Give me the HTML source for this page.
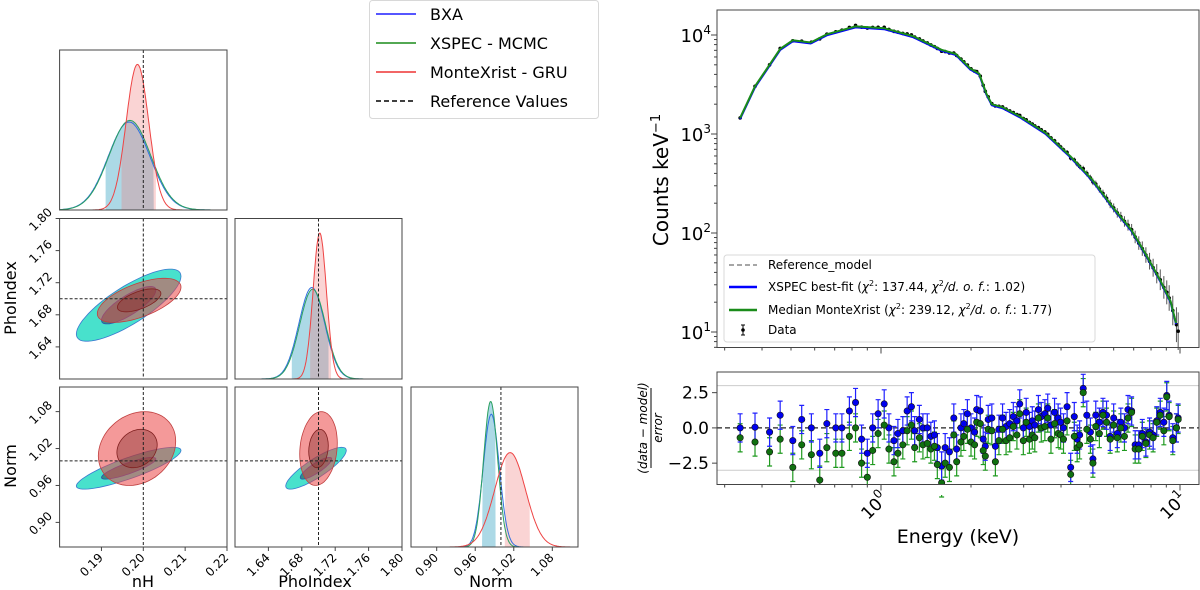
<!DOCTYPE html>
<html><head><meta charset="utf-8"><style>
html,body{margin:0;padding:0;background:#fff;}
svg{display:block;font-family:"DejaVu Sans","Liberation Sans",sans-serif;}
</style></head><body>
<svg id="fig" width="1200" height="590" viewBox="0 0 1200 590" xmlns="http://www.w3.org/2000/svg">
<g id="legend">
<rect x="369.5" y="0.5" width="229" height="118" rx="3" fill="#fff" stroke="#d8d8d8"/>
<line x1="376" y1="14" x2="416" y2="14" stroke="#1f1fff" stroke-width="1.5"/>
<text x="430" y="20" font-size="16">BXA</text>
<line x1="376" y1="43" x2="416" y2="43" stroke="#1a8c1a" stroke-width="1.5"/>
<text x="430" y="49" font-size="16">XSPEC - MCMC</text>
<line x1="376" y1="72" x2="416" y2="72" stroke="#ee3333" stroke-width="1.5"/>
<text x="430" y="78" font-size="16">MonteXrist - GRU</text>
<line x1="376" y1="101" x2="416" y2="101" stroke="#000" stroke-width="1.5" stroke-dasharray="5,3"/>
<text x="430" y="107" font-size="16">Reference Values</text>
</g>
</svg>
<script>
// ---------- corner plot data ----------
const paramNames = ["nH","PhoIndex","Norm"];
const paramRanges = [[0.18,0.22],[1.60,1.80],[0.86,1.12]];
const paramTicks = [[0.19,0.20,0.21,0.22],[1.64,1.68,1.72,1.76,1.80],[0.90,0.96,1.02,1.08]];
const refValues = [0.20,1.70,1.00];
// 1D marginals: [mean, sd, peak height fraction]
const bxaMarg = [[0.1966,0.0050,0.55],[1.692,0.0155,0.57],[0.985,0.0125,0.83]];
const xspecMarg = [[0.1968,0.0050,0.56],[1.693,0.0155,0.56],[0.984,0.0110,0.91]];
const gruMarg = [[0.1986,0.0027,0.91],[1.7015,0.0080,0.91],[1.0143,0.0240,0.59]];
const tealInterval = [[0.1910,0.2025],[1.668,1.712],[0.9706,0.9917]];
const redInterval = [[0.1948,0.2030],[1.690,1.715],[1.006,1.045]];
// 2D contours: [row, col, cx, cy, sx, sy, rho]
const tealContours = [[1,0,0.1965,1.692,0.0050,0.018,0.80],[2,0,0.1965,0.988,0.0050,0.0136,0.85],[2,1,1.697,0.988,0.0145,0.0136,0.85]];
const redContours = [[1,0,0.1990,1.698,0.0040,0.011,0.60],[2,0,0.1985,1.020,0.0037,0.024,0.20],[2,1,1.700,1.020,0.0090,0.024,0.15]];

// ---------- spectrum data ----------
const modelE = [0.338,0.379,0.424,0.46,0.507,0.582,0.659,0.822,1.025,1.278,1.594,1.781,1.988,2.13,2.25,2.35,2.55,2.93,3.55,4.3,5.08,6.0,6.88,7.7,8.58,9.3,9.7];
const modelLogC = [3.163,3.482,3.70,3.86,3.946,3.924,4.007,4.087,4.069,3.989,3.851,3.808,3.663,3.609,3.41,3.30,3.27,3.174,3.011,2.775,2.54,2.25,2.03,1.78,1.525,1.31,1.09];
const resE = [0.338,0.379,0.424,0.460,0.507,0.543,0.585,0.624,0.659,0.706,0.740,0.784,0.822,0.861,0.900,0.938,0.978,1.025,1.063,1.105,1.139,1.183,1.223,1.264,1.296,1.344,1.381,1.428,1.468,1.509,1.543,1.595,1.639,1.694,1.752,1.791,1.851,1.892,1.945,2.0,2.056,2.09,2.148,2.197,2.233,2.283,2.348,2.413,2.48,2.55,2.62,2.695,2.77,2.848,2.911,2.992,3.059,3.136,3.206,3.269,3.36,3.436,3.532,3.611,3.702,3.806,3.912,3.988,4.077,4.191,4.309,4.43,4.529,4.617,4.746,4.879,5.016,5.114,5.228,5.374,5.525,5.68,5.84,6.0,6.17,6.34,6.52,6.70,6.89,7.08,7.28,7.48,7.69,7.91,8.13,8.36,8.59,8.83,9.03,9.20,9.46,9.73,9.86];
const resBlue = [0,0.05,-0.3,0.9,-0.9,0.6,0,-1.8,0.3,0,0,1.2,1.8,-0.8,-1.8,0,1,1.7,0,-0.9,-0.4,-0.2,1.2,1.5,-0.2,0.6,0,0,-0.6,-0.5,-1.4,-2.7,-1.4,-1.7,0.7,-1.5,0,0.3,1,0,-0.3,1.3,1.2,-0.8,-1.3,0.6,0.7,-1.3,-0.1,0.7,0.1,0.3,0.8,0.5,1.7,0,1.1,0.1,0.5,0.2,1.3,0.8,1,1.4,0.2,1.1,0.7,0.4,0,1.5,-2.8,0.8,-0.8,-0.5,2.8,0.9,-0.3,-2.2,0.9,0.4,1.1,0.9,-0.6,0.7,-0.4,0.4,0,1.3,1.2,-1.2,-1.2,-0.4,-1,-0.3,-0.5,0.5,1.1,0.4,2.3,0.9,-0.7,0,0.7];
const resGreen = [-0.7,-1.0,-1.7,-0.8,-2.8,-1.2,-1.9,-3.7,-1.4,-1.8,-1.8,-0.6,0,-2.5,-3.5,-1.6,-0.4,0.2,-1.5,-2.4,-1.8,-1.2,-0.2,0.2,-1.4,-0.7,-1.2,-1.1,-1.5,-1.3,-2.6,-3.9,-2.5,-2.8,-0.5,-2.4,-1,-0.6,-0.1,-1,-1.2,0.4,0.3,-1.6,-2,-0.1,-0.2,-2.4,-0.9,-0.1,-0.9,-0.7,0.1,-0.5,1,-0.9,0.4,-0.8,-0.5,-0.7,0.7,0,0.1,0.7,-0.8,0.3,-0.4,-0.5,-0.8,0.5,-3.3,-0.6,-1.4,-1.2,2.5,-0.1,-0.8,-2.5,0.1,-0.4,0.9,0.4,-0.8,0.2,-0.7,0,-0.6,0.7,1.1,-1.5,-1.5,-0.6,-1.1,-0.5,-0.7,0.4,0.9,-0.2,2.2,0.8,-0.9,0,0.6];
const yTickExp = [1,2,3,4];
const resTicks = [2.5,0.0,-2.5];

// ---------- helpers ----------
const NS="http://www.w3.org/2000/svg";
const svg=document.getElementById('fig');
function mk(tag,attrs,parent){const e=document.createElementNS(NS,tag);for(const k in attrs)e.setAttribute(k,attrs[k]);(parent||svg).insertBefore(e,parent?null:document.getElementById('legend'));return e;}
function gauss(x,m,s){return Math.exp(-0.5*((x-m)/s)**2);}

// ---------- corner plot ----------
const colX=[[59.6,227],[235,402],[411,578]];
const rowY=[[50,210],[218.5,379],[387,547]];
function sx(i,v){const[a,b]=paramRanges[i];return colX[i][0]+(v-a)/(b-a)*(colX[i][1]-colX[i][0]);}
function sy(r,i,v){const[a,b]=paramRanges[i];return rowY[r][1]-(v-a)/(b-a)*(rowY[r][1]-rowY[r][0]);}

const corner=mk('g',{});



for(let i=0;i<3;i++){
  const g=mk('g',{},corner);
  
  
  const [y0,y1]=rowY[i]; const H=y1-y0;
  const curve=(m,lo,hi)=>{const pts=[];for(let k=0;k<=200;k++){const v=paramRanges[i][0]+(paramRanges[i][1]-paramRanges[i][0])*k/200;if(lo!==undefined&&(v<lo||v>hi))continue;pts.push([sx(i,v),y1-m[2]*H*gauss(v,m[0],m[1])]);}return pts;};
  const fillPath=(m,iv)=>{const pts=curve(m,iv[0],iv[1]);let d=`M${sx(i,iv[0])},${y1} `;pts.forEach(p=>d+=`L${p[0].toFixed(1)},${p[1].toFixed(1)} `);d+=`L${sx(i,iv[1])},${y1} Z`;return d;};
  const tf=mk('path',{d:fillPath(xspecMarg[i],tealInterval[i]),fill:'rgba(70,170,200,0.45)'},g);
  
  
  const rf=mk('path',{d:fillPath(gruMarg[i],redInterval[i]),fill:'rgba(240,120,120,0.32)'},g);
  
  
  [[bxaMarg[i],'#3070e0','kde-bxa'],[xspecMarg[i],'#2aa060','kde-xspec'],[gruMarg[i],'#ee4444','kde-gru']].forEach(([m,c,n])=>{
    const p=mk('polyline',{points:curve(m).map(q=>q[0].toFixed(1)+','+q[1].toFixed(1)).join(' '),fill:'none',stroke:c,'stroke-width':1},g);
    
    
  });
  const rl=mk('line',{x1:sx(i,refValues[i]),x2:sx(i,refValues[i]),y1:y0,y2:y1,stroke:'#222','stroke-dasharray':'3,2','stroke-width':1},g);
  
  
}

function ellipse(c,i,j,k){const [r,col,cx,cy,sxx,syy,rho]=c;let d='';for(let t=0;t<=64;t++){const a=t/64*2*Math.PI;const vx=cx+k*sxx*Math.cos(a);const vy=cy+k*syy*(rho*Math.cos(a)+Math.sqrt(1-rho*rho)*Math.sin(a));d+=(t?'L':'M')+sx(col,vx).toFixed(1)+','+sy(r,r,vy).toFixed(1)+' ';}return d+'Z';}
[[1,0],[2,0],[2,1]].forEach(([r,c])=>{
  const g=mk('g',{},corner);
  
  
  tealContours.filter(t=>t[0]===r&&t[1]===c).forEach(t=>{
    const o=mk('path',{d:ellipse(t,r,c,2.5),fill:'rgba(40,220,195,0.85)',stroke:'#3a78d0','stroke-width':0.8},g);
    
    
    const n=mk('path',{d:ellipse(t,r,c,1.3),fill:'rgba(50,110,110,0.75)',stroke:'#2a50b0','stroke-width':0.8},g);
    
    
  });
  redContours.filter(t=>t[0]===r&&t[1]===c).forEach(t=>{
    const o=mk('path',{d:ellipse(t,r,c,2.5),fill:'rgba(235,70,70,0.55)',stroke:'#c04040','stroke-width':0.8},g);
    
    
    const n=mk('path',{d:ellipse(t,r,c,1.3),fill:'rgba(140,50,50,0.45)',stroke:'#802020','stroke-width':0.8},g);
    
    
  });
  const v=mk('line',{x1:sx(c,refValues[c]),x2:sx(c,refValues[c]),y1:rowY[r][0],y2:rowY[r][1],stroke:'#222','stroke-dasharray':'3,2'},g);
  
  
  const h=mk('line',{x1:colX[c][0],x2:colX[c][1],y1:sy(r,r,refValues[r]),y2:sy(r,r,refValues[r]),stroke:'#222','stroke-dasharray':'3,2'},g);
  
  
});

for(let r=0;r<3;r++)for(let c=0;c<=r;c++){
  const f=mk('rect',{x:colX[c][0],y:rowY[r][0],width:colX[c][1]-colX[c][0],height:rowY[r][1]-rowY[r][0],fill:'none',stroke:'#444','stroke-width':1},corner);
  
  
  if(r===2){
    paramTicks[c].forEach(v=>{
      const x=sx(c,v);
      const tk=mk('line',{x1:x,x2:x,y1:rowY[2][1],y2:rowY[2][1]+4,stroke:'#444'},corner);
      
      
      const ax=x-10,ay=rowY[2][1]+18;
      const t=mk('text',{x:ax,y:ay,'font-size':12,'text-anchor':'middle','dominant-baseline':'central',transform:`rotate(-45 ${ax} ${ay})`},corner);
      t.textContent=v.toFixed(2);
      
      
    });
  }
  if(c===0&&r>0){
    paramTicks[r].filter(v=>v>paramRanges[r][0]+1e-9).forEach(v=>{
      const y=sy(r,r,v);
      const tk=mk('line',{x1:colX[0][0]-4,x2:colX[0][0],y1:y,y2:y,stroke:'#444'},corner);
      
      
      const ax=colX[0][0]-19,ay=y+1;
      const t=mk('text',{x:ax,y:ay,'font-size':12,'text-anchor':'middle','dominant-baseline':'central',transform:`rotate(-45 ${ax} ${ay})`},corner);
      t.textContent=v.toFixed(2);
      
      
    });
  }
}
const xl=[['nH',143],['PhoIndex',315],['Norm',491]];
xl.forEach(([s,x])=>{const t=mk('text',{x:x,y:587,'font-size':16,'text-anchor':'middle'},corner);t.textContent=s;
  
  });
[['PhoIndex',298],['Norm',466]].forEach(([s,y])=>{const t=mk('text',{x:16,y:y,'font-size':16,'text-anchor':'middle',transform:`rotate(-90 16 ${y})`},corner);t.textContent=s;
  
  });

// ---------- spectrum ----------
const PX0=717,PX1=1199,PY0=10,PY1=347.5,RY0=372,RY1=484.5;
function ex(E){return 881+Math.log10(E)*299;}
function ly(l){return 35+(4-l)*99;}
function ry(v){return 427.9-v*14.1;}
function interpLog(E){const l=Math.log10(E);for(let k=0;k<modelE.length-1;k++){const a=Math.log10(modelE[k]),b=Math.log10(modelE[k+1]);if(l<=b||k===modelE.length-2){const t=(l-a)/(b-a);return modelLogC[k]+t*(modelLogC[k+1]-modelLogC[k]);}}}

const sp=mk('g',{});


[3,-3].forEach(v=>{const l=mk('line',{x1:PX0,x2:PX1,y1:ry(v),y2:ry(v),stroke:'#ccc','stroke-width':1},sp);
  
  });
resE.forEach((E,k)=>{
  const lc=interpLog(E)+Math.log10(1+0.012*resBlue[k]);
  const x=ex(E),y=ly(lc);const err=Math.max(1.5,60/Math.sqrt(Math.pow(10,lc)));
  const eb=mk('line',{x1:x,x2:x,y1:y-err,y2:y+err,stroke:'#555','stroke-width':1},sp);
  
  
  const d=mk('circle',{cx:x,cy:y,r:1.8,fill:'#000'},sp);
  
  
});
const mpts=modelE.map((E,k)=>ex(E).toFixed(1)+','+ly(modelLogC[k]).toFixed(1)).join(' ');
const refL=mk('polyline',{points:mpts,fill:'none',stroke:'#888','stroke-width':1.5,'stroke-dasharray':'5,3'},sp);


const blueL=mk('polyline',{points:modelE.map((E,k)=>ex(E).toFixed(1)+','+(ly(modelLogC[k])+1).toFixed(1)).join(' '),fill:'none',stroke:'#0000ff','stroke-width':2},sp);


const greenL=mk('polyline',{points:mpts,fill:'none',stroke:'#1a8c1a','stroke-width':2},sp);



const zl=mk('line',{x1:PX0,x2:PX1,y1:ry(0),y2:ry(0),stroke:'#222','stroke-dasharray':'5,3','stroke-width':1.2},sp);


[[resGreen,'#1f9a1f','residual-green'],[resBlue,'#2020ff','residual-blue']].forEach(([arr,ec,n])=>{
  arr.forEach((v,k)=>{
    const x=ex(resE[k]);
    const eb=mk('path',{d:`M${x},${ry(v-1)} V${ry(v+1)} M${x-2.5},${ry(v-1)} h5 M${x-2.5},${ry(v+1)} h5`,stroke:ec,'stroke-width':1.2,fill:'none'},sp);
    
    
  });
});
[[resBlue,'#0000ee','residual-blue-point'],[resGreen,'#107010','residual-green-point']].forEach(([arr,fc,n])=>{
  arr.forEach((v,k)=>{
    const c=mk('circle',{cx:ex(resE[k]),cy:ry(v),r:3.2,fill:fc,stroke:'#111','stroke-width':0.6},sp);
    
    
  });
});
const clipTop=mk('rect',{x:PX0-1,y:RY0-20,width:PX1-PX0+2,height:19.5,fill:'#fff'},sp);


const clipBot=mk('rect',{x:PX0-1,y:RY1+0.5,width:PX1-PX0+2,height:10,fill:'#fff'},sp);



[[PY0,PY1,'spectrum-frame'],[RY0,RY1,'residual-frame']].forEach(([a,b,n])=>{
  const f=mk('rect',{x:PX0,y:a,width:PX1-PX0,height:b-a,fill:'none',stroke:'#444','stroke-width':1},sp);
  
  
});
for(let dec=-1;dec<=1;dec++)for(let m=1;m<10;m++){
  const E=m*Math.pow(10,dec);const x=ex(E);if(x<PX0||x>PX1)continue;
  const len=m===1?6:3;
  [PY1,RY1].forEach(yb=>{const t=mk('line',{x1:x,x2:x,y1:yb,y2:yb+len,stroke:'#444'},sp);
    
    });
}
[[1,'0'],[10,'1']].forEach(([E,s])=>{
  const x=ex(E)-6,y=RY1+22;
  const t=mk('text',{x:x,y:y,'font-size':17,'text-anchor':'middle','dominant-baseline':'central',transform:`rotate(-45 ${x} ${y})`},sp);
  t.innerHTML=`10<tspan dy="-7" font-size="12">${s}</tspan>`;
  
  
});
for(let dec=0;dec<=4;dec++)for(let m=1;m<10;m++){
  const l=dec+Math.log10(m);const y=ly(l);if(y<PY0||y>PY1)continue;
  const t=mk('line',{x1:PX0-(m===1?6:3),x2:PX0,y1:y,y2:y,stroke:'#444'},sp);
  
  
}
yTickExp.forEach(e=>{
  const t=mk('text',{x:PX0-6,y:ly(e)+7,'font-size':18,'text-anchor':'end'},sp);
  t.innerHTML=`10<tspan dy="-8" font-size="12">${e}</tspan>`;
  
  
});
resTicks.forEach(v=>{
  const tk=mk('line',{x1:PX0-5,x2:PX0,y1:ry(v),y2:ry(v),stroke:'#444'},sp);
  
  
  const t=mk('text',{x:PX0-8,y:ry(v)+6,'font-size':17,'text-anchor':'end'},sp);
  t.textContent=(v<0?'\u2212':'')+Math.abs(v).toFixed(1);
  
  
});
const yt=mk('text',{x:668,y:180,'font-size':20,'text-anchor':'middle',transform:'rotate(-90 668 180)'},sp);
yt.innerHTML='Counts keV<tspan dy="-8" font-size="13">\u22121</tspan>';


const rt=mk('g',{transform:'translate(651,428) rotate(-90)'},sp);


const rt1=mk('text',{x:0,y:-4,'font-size':12,'text-anchor':'middle','font-style':'italic'},rt);
rt1.textContent='(data \u2212 model)';


const rtl=mk('line',{x1:-40,x2:40,y1:0,y2:0,stroke:'#000'},rt);


const rt2=mk('text',{x:0,y:11,'font-size':12,'text-anchor':'middle','font-style':'italic'},rt);
rt2.textContent='error';


const xt=mk('text',{x:958,y:543,'font-size':19,'text-anchor':'middle'},sp);
xt.textContent='Energy (keV)';



const lg=mk('g',{},sp);


const lb=mk('rect',{x:724,y:255,width:371,height:87,rx:3,fill:'rgba(255,255,255,0.85)',stroke:'#d8d8d8'},lg);


const items=[['#888','5,3','Reference_model',265],['#0000ff','','XSPEC best-fit (<tspan font-style="italic">χ</tspan><tspan dy="-5" font-size="8">2</tspan><tspan dy="5">: 137.44, </tspan><tspan font-style="italic">χ</tspan><tspan dy="-5" font-size="8">2</tspan><tspan dy="5" font-style="italic">/d. o. f.</tspan>: 1.02)',287],['#1a8c1a','','Median MonteXrist (<tspan font-style="italic">χ</tspan><tspan dy="-5" font-size="8">2</tspan><tspan dy="5">: 239.12, </tspan><tspan font-style="italic">χ</tspan><tspan dy="-5" font-size="8">2</tspan><tspan dy="5" font-style="italic">/d. o. f.</tspan>: 1.77)',310],[null,'','Data',330]];
items.forEach(([c,da,s,y])=>{
  if(c){const l=mk('line',{x1:729,x2:757,y1:y,y2:y,stroke:c,'stroke-width':c==='#888'?1.5:2.5,'stroke-dasharray':da||'none'},lg);
    
    }
  else{const l=mk('path',{d:`M743,${y-5} V${y+5} M741,${y-5} h4 M741,${y+5} h4`,stroke:'#000',fill:'none'},lg);
    
    
    const d=mk('circle',{cx:743,cy:y,r:1.8,fill:'#000'},lg);
    
    }
  const t=mk('text',{x:768,y:y+4,'font-size':12},lg);
  t.innerHTML=s;
  
  
});
</script>
</body></html>
